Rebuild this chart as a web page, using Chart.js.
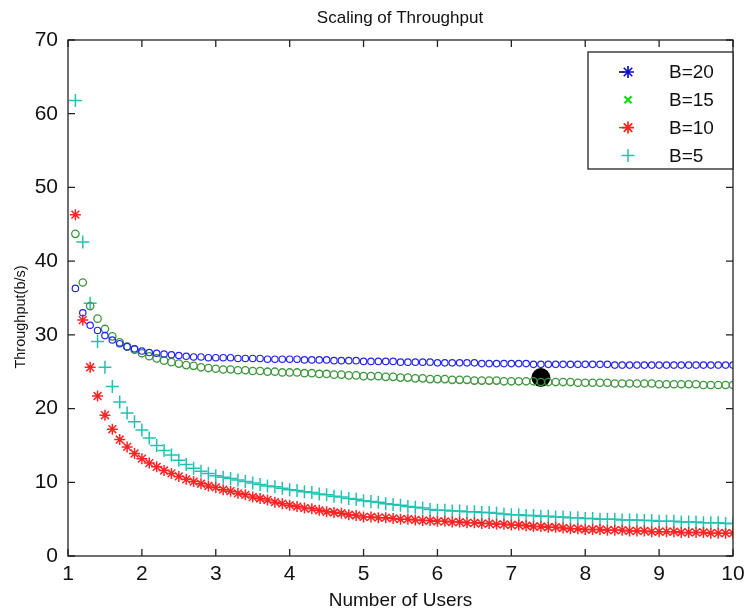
<!DOCTYPE html>
<html lang="en">
<head>
<meta charset="UTF-8">
<script src="https://cdn.jsdelivr.net/npm/chart.js@4.4.1/dist/chart.umd.min.js"></script>
<title>Scaling of Throughput</title>
<style>
  html, body { margin: 0; padding: 0; background: #fff; }
  #wrap { width: 744px; height: 612px; }
</style>
</head>
<body>
<div id="wrap"><canvas id="myChart" width="744" height="612"></canvas></div>
<script>
// number of users: 1.1 .. 10.0
var users = [];
for (var i = 11; i <= 100; i++) users.push(i / 10);

var b20 = [36.3,33.0,31.3,30.6,29.9,29.3,28.8,28.4,28.1,27.8,
  27.6,27.5,27.4,27.3,27.2,27.1,27.0,27.0,26.9,26.9,
  26.9,26.9,26.8,26.8,26.8,26.8,26.7,26.7,26.7,26.7,
  26.7,26.6,26.6,26.6,26.6,26.5,26.5,26.5,26.5,26.4,
  26.4,26.4,26.4,26.4,26.3,26.3,26.3,26.3,26.3,26.2,
  26.2,26.2,26.2,26.2,26.2,26.1,26.1,26.1,26.1,26.1,
  26.1,26.1,26.0,26.0,26.0,26.0,26.0,26.0,26.0,26.0,
  26.0,26.0,26.0,25.9,25.9,25.9,25.9,25.9,25.9,25.9,
  25.9,25.9,25.9,25.9,25.9,25.9,25.9,25.9,25.9,25.9];

var b15 = [43.7,37.1,33.9,32.2,30.8,29.8,29.0,28.4,28.0,27.5,
  27.1,26.8,26.5,26.3,26.1,25.9,25.8,25.6,25.5,25.4,
  25.3,25.3,25.2,25.2,25.1,25.1,25.0,25.0,24.9,24.9,
  24.9,24.8,24.8,24.7,24.7,24.6,24.6,24.5,24.5,24.4,
  24.4,24.4,24.3,24.3,24.2,24.2,24.1,24.1,24.0,24.0,
  24.0,23.9,23.9,23.9,23.8,23.8,23.8,23.8,23.7,23.7,
  23.7,23.7,23.7,23.6,23.6,23.6,23.6,23.6,23.5,23.5,
  23.5,23.5,23.5,23.4,23.4,23.4,23.4,23.4,23.4,23.3,
  23.3,23.3,23.3,23.3,23.3,23.2,23.2,23.2,23.2,23.2];

var b10 = [46.3,32.0,25.6,21.7,19.1,17.2,15.8,14.8,13.9,13.2,
  12.6,12.1,11.6,11.2,10.8,10.4,10.1,9.8,9.5,9.3,
  9.0,8.8,8.5,8.3,8.0,7.8,7.6,7.3,7.1,6.9,
  6.7,6.5,6.4,6.2,6.0,5.9,5.8,5.6,5.5,5.3,
  5.3,5.2,5.2,5.1,5.0,5.0,4.9,4.8,4.8,4.7,
  4.7,4.6,4.6,4.5,4.5,4.4,4.4,4.3,4.3,4.2,
  4.2,4.1,4.0,4.0,3.9,3.9,3.8,3.7,3.7,3.6,
  3.6,3.6,3.5,3.5,3.5,3.4,3.4,3.4,3.3,3.3,
  3.3,3.3,3.2,3.2,3.2,3.2,3.1,3.1,3.1,3.1];

var b5 = [61.8,42.6,34.3,29.1,25.6,23.0,20.9,19.4,18.2,17.1,
  16.0,15.0,14.3,13.7,13.0,12.4,11.9,11.5,11.2,10.9,
  10.7,10.5,10.3,10.1,9.9,9.7,9.5,9.4,9.2,9.0,
  8.9,8.7,8.6,8.4,8.3,8.1,8.0,7.8,7.7,7.5,
  7.4,7.3,7.1,7.0,6.9,6.7,6.6,6.5,6.3,6.2,
  6.2,6.1,6.1,6.0,6.0,5.9,5.9,5.8,5.7,5.6,
  5.6,5.5,5.5,5.4,5.4,5.3,5.3,5.2,5.2,5.1,
  5.1,5.0,5.0,5.0,4.9,4.9,4.9,4.8,4.8,4.7,
  4.7,4.7,4.6,4.6,4.6,4.5,4.5,4.5,4.4,4.4];

// black blob on the B=15 curve
var blobX = [7.4];
var blobY = [24.2];

var seriesNames = ['B=20', 'B=15', 'B=10', 'B=5'];
var yTicks = [0, 10, 20, 30, 40, 50, 60, 70];
var xTicks = [1, 2, 3, 4, 5, 6, 7, 8, 9, 10];

function pts(xs, ys) {
  var out = [];
  for (var k = 0; k < ys.length; k++) out.push({x: xs[k], y: ys[k]});
  return out;
}

var legendMarks = [
  {pointStyle: 'star', radius: 6, borderColor: '#1010c8', borderWidth: 1.7, dash: '#000'},
  {pointStyle: 'crossRot', radius: 5, borderColor: '#10e010', borderWidth: 2.2},
  {pointStyle: 'star', radius: 6, borderColor: '#ff2020', borderWidth: 1.7, dash: '#2a9a2a'},
  {pointStyle: 'cross', radius: 6.5, borderColor: '#20c4b4', borderWidth: 1.5}
];

// frame, inward ticks, title, y label, legend box
var matlabLook = {
  id: 'matlabLook',
  afterDatasetsDraw: function(chart) {
    var ctx = chart.ctx, a = chart.chartArea;
    var xs = chart.scales.x, ys = chart.scales.y;
    ctx.save();
    ctx.strokeStyle = '#222';
    ctx.lineWidth = 1.3;
    ctx.strokeRect(a.left, a.top, a.right - a.left, a.bottom - a.top);
    ctx.beginPath();
    xTicks.forEach(function(v) {
      var p = xs.getPixelForValue(v);
      ctx.moveTo(p, a.bottom); ctx.lineTo(p, a.bottom - 7);
      ctx.moveTo(p, a.top); ctx.lineTo(p, a.top + 7);
    });
    yTicks.forEach(function(v) {
      var p = ys.getPixelForValue(v);
      ctx.moveTo(a.left, p); ctx.lineTo(a.left + 7, p);
      ctx.moveTo(a.right, p); ctx.lineTo(a.right - 7, p);
    });
    ctx.stroke();

    // title
    ctx.fillStyle = '#111';
    ctx.font = '17px "Liberation Sans", Arial, sans-serif';
    ctx.textAlign = 'center';
    ctx.textBaseline = 'middle';
    ctx.fillText('Scaling of Throughput', 400, 18);

    // y axis label
    ctx.save();
    ctx.translate(21, 317);
    ctx.rotate(-Math.PI / 2);
    ctx.font = '14.5px "Liberation Sans", Arial, sans-serif';
    ctx.fillText('Throughput(b/s)', 0, 0);
    ctx.restore();

    // legend
    var bx = 588, by = 52, bw = a.right - 588, bh = 117;
    ctx.fillStyle = '#fff';
    ctx.fillRect(bx, by, bw, bh);
    ctx.strokeStyle = '#222';
    ctx.lineWidth = 1.3;
    ctx.strokeRect(bx, by, bw, bh);
    ctx.font = '19px "Liberation Sans", Arial, sans-serif';
    ctx.textAlign = 'left';
    for (var k = 0; k < seriesNames.length; k++) {
      var yy = 72 + k * 27.8;
      var m = legendMarks[k];
      if (m.dash) {
        ctx.strokeStyle = m.dash;
        ctx.lineWidth = 1.5;
        ctx.beginPath();
        ctx.moveTo(619, yy); ctx.lineTo(625, yy);
        ctx.stroke();
      }
      ctx.strokeStyle = m.borderColor;
      ctx.lineWidth = m.borderWidth;
      Chart.helpers.drawPoint(ctx, {pointStyle: m.pointStyle, radius: m.radius, borderWidth: m.borderWidth, rotation: 0}, 628, yy);
      ctx.fillStyle = '#111';
      ctx.fillText(seriesNames[k], 669, yy + 1);
    }
    ctx.restore();
  }
};

var ctx = document.getElementById('myChart').getContext('2d');
var myChart = new Chart(ctx, {
  type: 'scatter',
  data: {
    datasets: [
      {label: seriesNames[0], data: pts(users, b20), pointStyle: 'circle', pointRadius: 3.2,
       borderColor: '#2424f0', backgroundColor: 'rgba(0,0,0,0)', borderWidth: 1.2},
      {label: seriesNames[1], data: pts(users, b15), pointStyle: 'circle', pointRadius: 3.7,
       borderColor: '#3c963c', backgroundColor: 'rgba(0,0,0,0)', borderWidth: 1.3},
      {label: seriesNames[2], data: pts(users, b10), pointStyle: 'star', pointRadius: 5.5,
       borderColor: '#ff2424', backgroundColor: 'rgba(0,0,0,0)', borderWidth: 1.5},
      {label: seriesNames[3], data: pts(users, b5), pointStyle: 'cross', pointRadius: 6.5,
       borderColor: '#22c2b2', backgroundColor: 'rgba(0,0,0,0)', borderWidth: 1.5},
      {label: 'blob', data: pts(blobX, blobY), pointStyle: 'circle', pointRadius: 9.5,
       borderColor: '#000', backgroundColor: '#000', borderWidth: 0}
    ]
  },
  options: {
    responsive: false,
    animation: false,
    events: [],
    layout: {padding: {top: 40, right: 11, left: 0, bottom: 0}},
    plugins: {
      legend: {display: false},
      tooltip: {enabled: false}
    },
    scales: {
      x: {
        type: 'linear', min: 1, max: 10,
        afterFit: function(s) { s.height = 56; s.paddingRight = 0; s.paddingLeft = 0; },
        grid: {display: false, drawTicks: false},
        border: {display: false},
        ticks: {stepSize: 1, padding: 6, color: '#111', font: {family: '"Liberation Sans", Arial', size: 21}},
        title: {display: true, text: 'Number of Users', color: '#111', padding: {top: 0, bottom: 0},
                font: {family: '"Liberation Sans", Arial', size: 19}}
      },
      y: {
        type: 'linear', min: 0, max: 70,
        afterFit: function(s) { s.width = 68; s.paddingTop = 0; s.paddingBottom = 0; },
        grid: {display: false, drawTicks: false},
        border: {display: false},
        ticks: {stepSize: 10, padding: 10, color: '#111', font: {family: '"Liberation Sans", Arial', size: 21}}
      }
    }
  },
  plugins: [matlabLook]
});
</script>
</body>
</html>
